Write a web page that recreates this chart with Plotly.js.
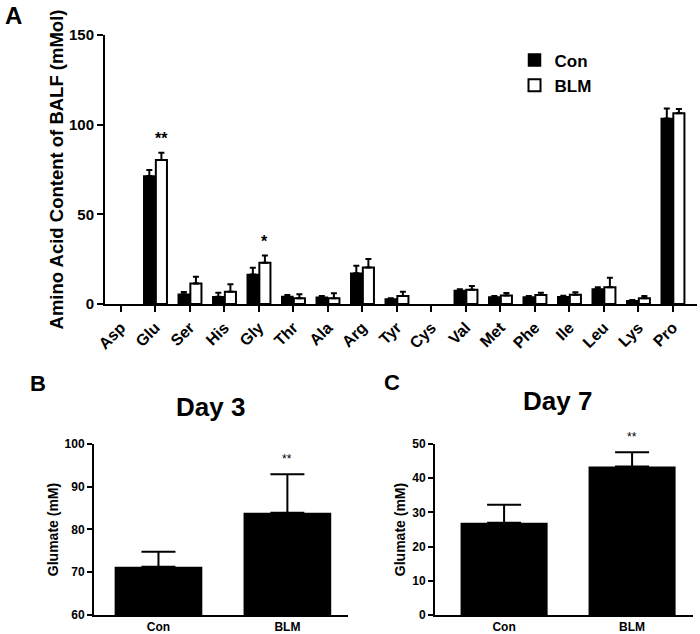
<!DOCTYPE html>
<html><head><meta charset="utf-8">
<script src="https://cdn.plot.ly/plotly-3.0.1.min.js"></script>
<style>html,body{margin:0;padding:0;background:#fff}</style>
</head><body><div id="chart" style="width:700px;height:634px"></div>
<script>
// Panel A data (Asp and Cys: no bar shown / not detected)
const aminoAcids = ['Asp','Glu','Ser','His','Gly','Thr','Ala','Arg','Tyr','Cys','Val','Met','Phe','Ile','Leu','Lys','Pro'];
const conValues = [null, 71.4, 5.5, 4.1, 16.5, 4.2, 3.7, 17.1, 2.8, null, 7.5, 3.9, 3.9, 4.0, 8.4, 1.8, 103.5];
const conErrors = [null, 3.3, 1.2, 2.2, 3.7, 0.8, 0.7, 4.3, 0.4, null, 0.7, 0.6, 0.6, 0.6, 1.0, 0.4, 5.5];
const blmValues = [null, 80.3, 11.5, 6.9, 23.0, 3.2, 3.2, 20.3, 4.5, null, 8.0, 4.8, 5.0, 5.2, 9.3, 3.2, 106.3];
const blmErrors = [null, 4.1, 3.7, 4.1, 4.0, 2.2, 2.8, 4.8, 2.4, null, 2.0, 1.4, 1.3, 1.4, 5.4, 1.3, 2.5];

// Panel B / C data
const groups = ['Con', 'BLM'];
const day3Values = [71.3, 83.9];
const day3Errors = [3.5, 9.0];
const day7Values = [27.0, 43.4];
const day7Errors = [5.2, 4.2];

const FONT = 'Liberation Sans, Arial, sans-serif';
// error bars only upward, none where there is no bar
const upErr = (vals, errs) => errs.map((e, i) => vals[i] > 0 ? e : NaN);
const downErr = (vals) => vals.map(v => v > 0 ? 0 : NaN);

const traces = [
  {type:'bar', name:'Con', x:aminoAcids, y:conValues, xaxis:'x', yaxis:'y',
   marker:{color:'#000', line:{color:'#000', width:1.5}},
   error_y:{type:'data', symmetric:false, array:upErr(conValues, conErrors), arrayminus:downErr(conValues),
            color:'#000', thickness:2, width:3}},
  {type:'bar', name:'BLM', x:aminoAcids, y:blmValues, xaxis:'x', yaxis:'y',
   marker:{color:'#fff', line:{color:'#000', width:2}},
   error_y:{type:'data', symmetric:false, array:upErr(blmValues, blmErrors), arrayminus:downErr(blmValues),
            color:'#000', thickness:2, width:3}},
  {type:'bar', name:'Day 3', x:groups, y:day3Values, xaxis:'x2', yaxis:'y2', showlegend:false,
   marker:{color:'#000'}, width:0.68,
   error_y:{type:'data', symmetric:false, array:day3Errors, arrayminus:[0,0], color:'#000', thickness:2, width:17}},
  {type:'bar', name:'Day 7', x:groups, y:day7Values, xaxis:'x3', yaxis:'y3', showlegend:false,
   marker:{color:'#000'}, width:0.68,
   error_y:{type:'data', symmetric:false, array:day7Errors, arrayminus:[0,0], color:'#000', thickness:2, width:17}}
];

const axisCommon = {showline:true, linecolor:'#000', linewidth:2, showgrid:false, zeroline:false,
  ticks:'outside', tickcolor:'#000', tickwidth:2, ticklen:6};

const layout = {
  width:700, height:634,
  margin:{l:0, r:0, t:0, b:0},
  paper_bgcolor:'#fff', plot_bgcolor:'#fff',
  font:{family:FONT, color:'#000', weight:'bold'},
  barmode:'group', bargap:0.3, bargroupgap:0.08,
  showlegend:true,
  legend:{x:0.735, y:0.933, xanchor:'left', yanchor:'top', font:{size:17, family:FONT, weight:'bold'},
          bgcolor:'rgba(0,0,0,0)', tracegroupgap:0},
  xaxis:Object.assign({}, axisCommon, {domain:[0.15, 0.9957], anchor:'y', type:'category',
         categoryorder:'array', categoryarray:aminoAcids,
         range:[-0.46, 16.7], tickangle:-45, tickfont:{size:16, family:FONT, weight:'bold'}}),
  yaxis:Object.assign({}, axisCommon, {domain:[0.5205, 0.9448], anchor:'x', range:[0,150], dtick:50,
         tickfont:{size:15, family:FONT, weight:'bold'},
         title:{text:'Amino Acid Content of BALF (mMol)', font:{size:18.5, family:FONT, weight:'bold'}, standoff:0}}),
  xaxis2:Object.assign({}, axisCommon, {domain:[0.1343, 0.4971], anchor:'y2', type:'category',
         range:[-0.5, 1.47], ticks:'', tickfont:{size:12, family:FONT, weight:'bold'}}),
  yaxis2:Object.assign({}, axisCommon, {domain:[0.03, 0.2997], anchor:'x2', range:[60,100], dtick:10,
         ticklen:5, tickfont:{size:12, family:FONT, weight:'bold'},
         title:{text:'Glumate (mM)', font:{size:14, family:FONT, weight:'bold'}, standoff:3}}),
  xaxis3:Object.assign({}, axisCommon, {domain:[0.6214, 0.99], anchor:'y3', type:'category',
         range:[-0.54, 1.476], ticks:'', tickfont:{size:12, family:FONT, weight:'bold'}}),
  yaxis3:Object.assign({}, axisCommon, {domain:[0.03, 0.2997], anchor:'x3', range:[0,50], dtick:10,
         ticklen:5, tickfont:{size:12, family:FONT, weight:'bold'},
         title:{text:'Glumate (mM)', font:{size:14, family:FONT, weight:'bold'}, standoff:3}}),
  annotations:[
    {text:'A', xref:'paper', yref:'paper', x:0.004, y:1.0, xanchor:'left', yanchor:'top', showarrow:false,
     font:{size:24, family:FONT, weight:'bold'}},
    {text:'B', xref:'paper', yref:'paper', x:0.04, y:0.395, xanchor:'left', yanchor:'middle', showarrow:false,
     font:{size:22, family:FONT, weight:'bold'}},
    {text:'C', xref:'paper', yref:'paper', x:0.545, y:0.397, xanchor:'left', yanchor:'middle', showarrow:false,
     font:{size:22, family:FONT, weight:'bold'}},
    {text:'Day 3', xref:'paper', yref:'paper', x:0.30, y:0.358, xanchor:'center', yanchor:'middle', showarrow:false,
     font:{size:26, family:FONT, weight:'bold'}},
    {text:'Day 7', xref:'paper', yref:'paper', x:0.797, y:0.368, xanchor:'center', yanchor:'middle', showarrow:false,
     font:{size:26, family:FONT, weight:'bold'}},
    {text:'**', xref:'x', yref:'y', x:'Glu', y:blmValues[1]+blmErrors[1], xshift:6, yshift:4, yanchor:'bottom',
     showarrow:false, font:{size:16, family:FONT, weight:'bold'}},
    {text:'*', xref:'x', yref:'y', x:'Gly', y:blmValues[4]+blmErrors[4], xshift:6, yshift:4, yanchor:'bottom',
     showarrow:false, font:{size:16, family:FONT, weight:'bold'}},
    {text:'**', xref:'x2', yref:'y2', x:'BLM', y:day3Values[1]+day3Errors[1], yshift:6, yanchor:'bottom',
     showarrow:false, font:{size:12, family:FONT, weight:'normal'}},
    {text:'**', xref:'x3', yref:'y3', x:'BLM', y:day7Values[1]+day7Errors[1], yshift:6, yanchor:'bottom',
     showarrow:false, font:{size:12, family:FONT, weight:'normal'}}
  ]
};

Plotly.newPlot('chart', traces, layout, {displayModeBar:false, staticPlot:true});
</script>
</body></html>
